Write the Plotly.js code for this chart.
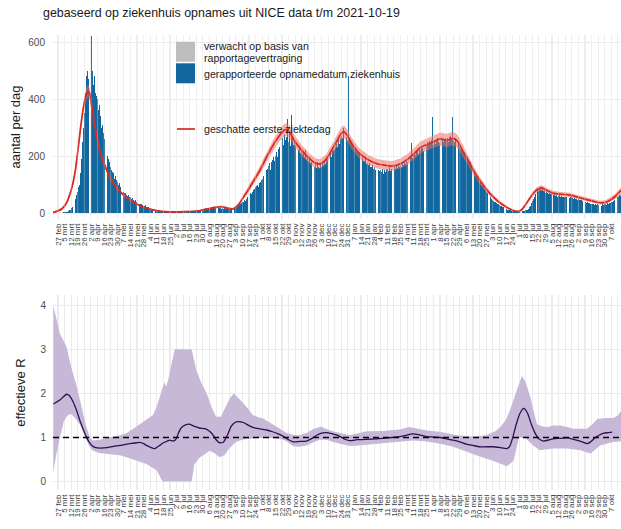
<!DOCTYPE html>
<html>
<head>
<meta charset="utf-8">
<script src="https://cdn.plot.ly/plotly-3.0.1.min.js"></script>
<style>html,body{margin:0;padding:0;background:#fff;}#chart{width:621px;height:529px;}</style>
</head>
<body>
<div id="chart"></div>
<script>
// ---- DATA (day offsets relative to 2020-02-27) ----
const startDate = [2020, 1, 27];
const monthsNL = ['jan','feb','mrt','apr','mei','jun','jul','aug','sep','okt','nov','dec'];
const chartTitle = 'gebaseerd op ziekenhuis opnames uit NICE data t/m 2021-10-19';

// daily reported hospital admissions (day 0 .. 600)
const admissions = [
 0,0,0,1,0,1,2,
 2,3,4,5,7,9,12,
 16,20,26,32,40,50,62,
 75,90,100,140,190,250,300,
 350,420,480,500,470,510,490,
 505,620,500,450,480,420,410,
 400,360,380,340,300,310,280,
 260,240,250,210,200,190,180,
 160,150,145,140,120,130,115,
 110,100,105,92,85,95,80,
 75,70,72,65,60,62,57,
 55,50,52,45,42,45,40,
 38,35,36,32,30,33,28,
 26,25,27,22,20,22,18,
 16,15,14,12,12,13,10,
 10,9,8,8,7,8,6,
 6,5,6,5,4,5,4,
 4,5,4,3,4,5,3,
 4,3,5,4,3,4,5,
 5,4,6,5,4,6,5,
 6,5,7,6,8,7,9,
 10,9,11,12,10,13,12,
 14,13,15,16,14,17,16,
 18,17,19,16,18,20,17,
 19,18,20,17,16,18,15,
 16,15,17,14,15,16,14,
 15,16,18,17,19,20,22,
 24,26,25,28,30,32,35,
 38,40,45,42,50,55,58,
 62,65,70,68,75,80,85,
 90,95,100,92,105,110,115,
 120,130,118,140,128,150,155,
 165,175,152,180,185,198,182,
 200,215,198,225,232,218,245,
 250,262,240,275,255,268,330,
 250,282,235,345,262,240,258,
 238,262,400,232,220,236,210,
 222,206,212,196,220,190,192,
 183,196,176,178,188,165,178,
 162,174,158,178,163,158,172,
 163,178,168,183,172,188,192,
 195,204,200,214,198,218,222,
 226,232,244,232,255,242,262,
 272,262,300,270,320,282,268,
 258,480,262,258,246,238,236,
 228,226,216,218,206,208,198,
 200,192,192,183,182,188,172,
 180,168,176,162,162,168,153,
 160,152,152,158,143,150,146,
 150,143,156,138,151,143,153,
 155,148,162,146,156,158,150,
 158,164,153,167,158,172,163,
 170,163,178,168,182,172,188,
 180,192,183,198,200,245,193,
 202,212,202,218,222,208,228,
 220,228,228,218,238,228,242,
 235,248,238,252,243,258,338,
 240,252,243,258,262,248,245,
 250,298,252,262,248,260,265,
 255,262,248,268,272,258,338,
 255,248,262,335,243,240,250,
 235,225,230,220,210,215,200,
 190,195,185,175,180,165,160,
 150,145,140,130,135,125,120,
 110,105,100,95,90,85,80,
 75,70,65,62,58,55,50,
 46,42,40,38,35,32,30,
 28,26,24,22,20,18,17,
 15,14,12,11,10,9,8,
 7,6,6,5,5,4,5,
 4,5,5,6,6,7,8,
 9,10,12,15,20,26,34,
 42,50,58,66,72,78,82,
 88,85,90,82,84,78,76,
 72,74,70,68,72,66,70,
 65,68,62,66,60,64,58,
 60,62,57,60,55,58,56,
 58,55,60,54,57,52,56,
 55,52,50,54,48,50,46,
 48,45,44,46,42,40,43,
 40,38,36,39,35,34,32,
 33,30,32,29,31,28,30,
 28,30,27,29,26,30,28,
 30,32,29,35,33,36,34,
 38,40,42,45,48,50,52,
 55,58,62,60,65,50
];
// expected extra admissions due to reporting delay (last days)
const expectedDays  = [595,596,597,598,599,600];
const expectedExtra = [0,1,2,4,8,20];

// estimated first day of illness (smoothed) with band
const onsetDay = [-6,-3,0,4,9,14,18,21,24,27,30,32,34,36,39,42,46,50,55,62,70,80,90,100,110,120,135,150,160,167,174,180,186,192,197,202,207,212,217,223,229,235,240,243,247,252,259,266,272,278,284,290,296,301,304,308,312,320,330,340,347,355,365,372,379,385,392,399,406,413,420,425,431,436,441,448,456,463,470,478,485,489,493,498,503,509,514,520,526,535,544,553,562,570,576,582,587,592,597,600];
const onsetMid = [2,4,8,14,35,80,140,215,300,370,415,428,415,370,310,255,200,165,125,90,62,38,22,12,6,4,5,8,15,20,22,17,14,30,55,80,108,135,165,205,240,270,290,293,280,250,220,195,178,172,185,215,250,280,285,270,245,210,186,172,168,165,175,190,210,230,240,250,260,255,262,250,212,185,152,115,80,55,35,18,8,6,12,35,60,82,88,78,70,66,63,55,47,40,36,38,46,58,75,82];
const onsetLo  = [0,1,4,9,28,70,127,200,283,352,395,406,395,352,294,241,188,155,117,84,57,34,19,10,4,2,3,6,12,16,18,13,10,24,47,70,96,121,150,188,221,250,268,270,258,230,201,177,161,155,167,196,229,258,263,249,225,192,169,155,151,148,157,171,190,209,218,228,237,232,238,227,192,167,136,102,70,47,29,14,5,3,8,29,52,73,79,70,62,58,55,48,40,34,30,31,38,48,63,68];
const onsetHi  = [4,7,12,19,42,90,153,230,317,390,437,450,437,390,326,269,212,175,133,96,67,42,25,14,8,6,7,11,19,24,26,21,18,36,63,90,120,149,180,222,259,290,312,316,302,270,239,213,195,189,203,234,271,302,307,291,265,228,203,189,185,182,193,209,230,251,262,272,283,278,286,273,232,203,168,128,90,63,41,22,11,9,16,41,68,91,98,87,78,74,71,62,54,47,43,46,55,68,88,97];

// effective R with band
const rDay = [-5,2,9,12,16,20,23,27,30,33,36,40,45,52,59,66,73,80,87,91,94,99,103,108,112,116,119,122,125,128,131,135,140,145,151,156,160,164,168,172,176,180,184,188,192,197,203,210,216,222,228,234,240,245,250,257,264,270,275,280,286,292,300,305,310,318,328,338,345,355,363,370,377,384,392,400,406,413,420,427,434,441,448,455,463,470,477,480,483,487,491,495,499,503,507,511,516,521,526,533,541,546,551,557,562,566,570,575,580,585,589];
const rMid = [1.76,1.85,1.98,1.95,1.81,1.6,1.4,1.18,1.02,0.9,0.82,0.77,0.76,0.77,0.8,0.82,0.85,0.87,0.89,0.86,0.82,0.77,0.75,0.82,0.88,0.92,0.94,0.92,0.95,1.1,1.22,1.28,1.3,1.25,1.21,1.2,1.16,1.08,0.95,0.88,0.9,1.05,1.25,1.34,1.36,1.34,1.27,1.21,1.19,1.17,1.13,1.08,1.02,0.95,0.9,0.91,0.92,0.98,1.05,1.1,1.11,1.08,1.02,0.96,0.93,0.95,0.96,0.97,0.98,1.0,1.02,1.05,1.08,1.06,1.02,1.01,1.0,0.97,0.94,0.9,0.85,0.82,0.79,0.79,0.79,0.77,0.75,0.8,0.98,1.3,1.55,1.66,1.55,1.3,1.1,0.97,0.92,0.94,0.97,0.98,0.99,0.97,0.94,0.9,0.86,0.9,0.98,1.05,1.1,1.11,1.12];
const rUpDay = [-5,-2,2,9,14,20,25,30,34,37,44,52,59,66,73,80,87,94,101,105,108,112,113,115,117,120,124,142,145,147,152,158,163,168,173,178,183,187,192,196,202,207,213,218,228,236,243,250,257,264,272,280,284,292,300,310,320,328,345,363,373,384,392,406,424,441,455,465,470,476,480,484,488,493,497,502,506,509,515,520,527,534,541,548,556,562,568,573,582,590,595,600];
const rUp = [4.0,3.7,3.35,3.06,2.6,2.15,1.7,1.25,1.0,0.93,0.95,0.98,1.02,1.05,1.1,1.2,1.3,1.4,1.51,1.7,1.93,2.2,2.25,2.15,2.3,2.6,3.0,3.0,2.7,2.53,2.25,2.0,1.7,1.47,1.47,1.7,1.9,2.0,1.9,1.8,1.65,1.51,1.46,1.43,1.3,1.2,1.1,1.06,1.05,1.1,1.2,1.25,1.2,1.14,1.1,1.05,1.1,1.14,1.15,1.18,1.24,1.2,1.16,1.13,1.05,1.02,1.05,1.15,1.24,1.4,1.6,1.85,2.1,2.4,2.25,1.91,1.55,1.3,1.25,1.24,1.27,1.27,1.24,1.2,1.2,1.2,1.3,1.42,1.44,1.44,1.5,1.66];
const rLoDay = [-5,-2,2,6,10,14,18,23,27,30,34,37,44,55,66,73,80,87,94,100,105,108,111,142,145,151,156,161,166,172,177,182,189,196,203,212,221,230,240,245,250,257,264,268,278,286,292,300,310,320,340,363,377,392,406,420,434,448,463,477,484,488,490,496,505,512,520,526,541,555,566,576,590,600];
const rLo = [0.2,0.6,1.0,1.35,1.5,1.53,1.45,1.3,1.1,0.95,0.78,0.7,0.65,0.62,0.6,0.56,0.5,0.45,0.4,0.32,0.25,0.12,0.0,0.0,0.4,0.55,0.62,0.7,0.65,0.55,0.6,0.75,0.9,0.95,0.97,0.99,1.0,0.98,0.95,0.88,0.8,0.79,0.82,0.86,0.95,0.95,0.9,0.86,0.81,0.82,0.85,0.9,0.93,0.91,0.86,0.79,0.68,0.57,0.47,0.35,0.47,0.8,1.0,1.0,0.82,0.71,0.73,0.75,0.75,0.71,0.64,0.82,0.9,0.92];
const rReference = 1;

// weekly tick offsets
const tickStep = 7, lastTick = 595;

// ---- helpers ----
const DAY0 = Date.UTC(startDate[0], startDate[1], startDate[2]);
function toDate(d){ return new Date(DAY0 + d*864e5).toISOString().slice(0,19).replace('T',' '); }
const tickvals = [], ticktext = [];
for (let d = 0; d <= lastTick; d += tickStep) {
  const dt = new Date(DAY0 + d*864e5);
  tickvals.push(toDate(d));
  ticktext.push(dt.getUTCDate() + ' ' + monthsNL[dt.getUTCMonth()]);
}
const admDates = admissions.map((v,i)=>toDate(i));

// layout geometry (pixels)
const W = 621, H = 529, ML = 53, MR = 0, MT = 35, MB = 39;
const PW = W-ML-MR, PH = H-MT-MB;
const px = x => (x-ML)/PW, py = y => (H-MB-y)/PH;

const BLUE = '#11679e', GREY = '#bdbdbd', RED = '#d7281f';
const font = 'Liberation Sans, Arial, Helvetica, sans-serif';

const traces = [
  {type:'bar', x: admDates, y: admissions, marker:{color:BLUE, line:{width:0}}, xaxis:'x', yaxis:'y', hoverinfo:'skip'},
  {type:'bar', x: expectedDays.map(toDate), y: expectedExtra, marker:{color:GREY, line:{width:0}}, xaxis:'x', yaxis:'y', hoverinfo:'skip'},
  {type:'scatter', mode:'lines', x: onsetDay.map(toDate).concat(onsetDay.slice().reverse().map(toDate)),
   y: onsetHi.concat(onsetLo.slice().reverse()), fill:'toself', fillcolor:'rgba(236,110,98,0.55)', line:{width:0, color:'rgba(0,0,0,0)'}, xaxis:'x', yaxis:'y', hoverinfo:'skip'},
  {type:'scatter', mode:'lines', x: onsetDay.map(toDate), y: onsetMid, line:{color:RED, width:1.7, shape:'spline', smoothing:0.6}, xaxis:'x', yaxis:'y', hoverinfo:'skip'},
  {type:'scatter', mode:'lines', x: rUpDay.map(toDate).concat(rLoDay.slice().reverse().map(toDate)),
   y: rUp.concat(rLo.slice().reverse()), fill:'toself', fillcolor:'#c7b8d8', line:{width:0, color:'rgba(0,0,0,0)'}, xaxis:'x2', yaxis:'y2', hoverinfo:'skip'},
  {type:'scatter', mode:'lines', x: rDay.map(toDate), y: rMid, line:{color:'#2e0f50', width:1.3, shape:'spline', smoothing:0.5}, xaxis:'x2', yaxis:'y2', hoverinfo:'skip'}
];

const xRange = [toDate(-5.3), toDate(598.3)];
function xAxis(anchor){
  return {anchor, type:'date', range:xRange, tickmode:'array', tickvals, ticktext, tickangle:-90,
    tickfont:{size:8, color:'#3d3d3d', family:font}, showgrid:true, gridcolor:'#ebebeb', gridwidth:1.1,
    zeroline:false, showline:false, ticks:'', ticklabelstandoff:2, fixedrange:true};
}
const yBase = {showgrid:true, gridcolor:'#ebebeb', gridwidth:1.1, zeroline:false, showline:false, ticks:'',
  tickfont:{size:10, color:'#4d4d4d', family:font}, fixedrange:true};

// light weekly stripes drawn over the bars (grid showing through)
const stripes = tickvals.map(t => ({type:'line', layer:'above', xref:'x', yref:'y domain', x0:t, x1:t, y0:0, y1:1,
  line:{color:'rgba(255,255,255,0.28)', width:1}}));

const layout = {
  width:W, height:H, margin:{l:ML, r:MR, t:MT, b:MB},
  paper_bgcolor:'#fff', plot_bgcolor:'#fff', showlegend:false,
  font:{family:font, color:'#1a1a1a'},
  barmode:'stack', bargap:0.12,
  title:{text:chartTitle, font:{size:12.4, color:'#1a1a1a', family:font}, xref:'container', yref:'container',
         x:43/W, xanchor:'left', y:1-13/H, yanchor:'middle'},
  xaxis: Object.assign(xAxis('y'), {domain:[0,1]}),
  xaxis2: Object.assign(xAxis('y2'), {domain:[0,1]}),
  yaxis: Object.assign({}, yBase, {domain:[py(219),1], range:[-21,625], tickvals:[0,200,400,600], ticktext:['0','200','400','600'],
     ticklabelstandoff:7, title:{text:'aantal per dag', font:{size:13, color:'#1a1a1a'}, standoff:4}}),
  yaxis2: Object.assign({}, yBase, {domain:[0,py(295)], range:[-0.19,4.23], tickvals:[0,1,2,3,4], ticktext:['0','1','2','3','4'],
     ticklabelstandoff:6, title:{text:'effectieve R', font:{size:13, color:'#1a1a1a'}, standoff:11}}),
  shapes: stripes.concat([
    {type:'line', xref:'x2 domain', yref:'y2', x0:0, x1:1, y0:rReference, y1:rReference, line:{color:'#000', width:1.3, dash:'6px,4px'}},
    {type:'rect', layer:'above', xref:'paper', yref:'paper', x0:px(176), x1:px(195), y0:py(61.7), y1:py(41.7), fillcolor:GREY, line:{width:0}},
    {type:'rect', layer:'above', xref:'paper', yref:'paper', x0:px(176), x1:px(195), y0:py(83.3), y1:py(63.3), fillcolor:BLUE, line:{width:0}},
    {type:'line', layer:'above', xref:'paper', yref:'paper', x0:px(177), x1:px(195), y0:py(129), y1:py(129), line:{color:RED, width:1.7}}
  ]),
  annotations:[
    {text:'verwacht op basis van', xref:'paper', yref:'paper', x:px(202), y:py(46), xanchor:'left', yanchor:'middle', showarrow:false, font:{size:10.6, color:'#1a1a1a'}},
    {text:'rapportagevertraging', xref:'paper', yref:'paper', x:px(202), y:py(58), xanchor:'left', yanchor:'middle', showarrow:false, font:{size:10.6, color:'#1a1a1a'}},
    {text:'gerapporteerde opnamedatum ziekenhuis', xref:'paper', yref:'paper', x:px(202), y:py(74), xanchor:'left', yanchor:'middle', showarrow:false, font:{size:10.6, color:'#1a1a1a'}},
    {text:'geschatte eerste ziektedag', xref:'paper', yref:'paper', x:px(202), y:py(129), xanchor:'left', yanchor:'middle', showarrow:false, font:{size:10.6, color:'#1a1a1a'}}
  ]
};

Plotly.newPlot('chart', traces, layout, {displayModeBar:false, staticPlot:true});
</script>
</body>
</html>
